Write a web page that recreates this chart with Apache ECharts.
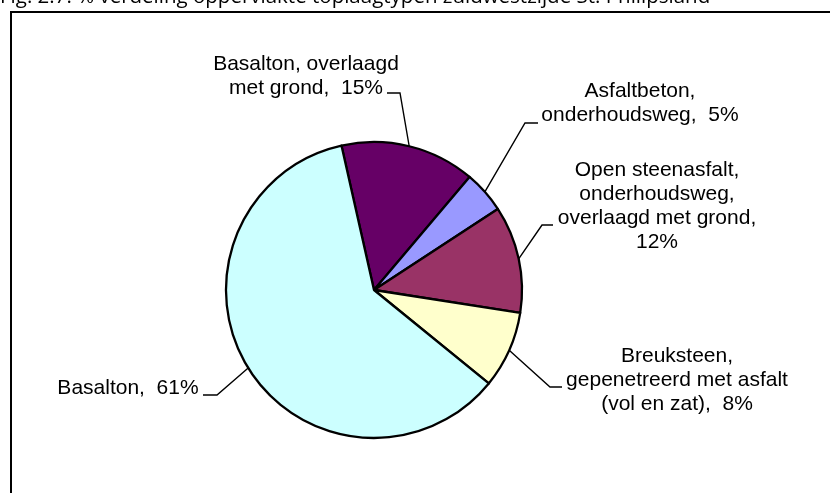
<!DOCTYPE html>
<html>
<head>
<meta charset="utf-8">
<script src="https://cdn.jsdelivr.net/npm/echarts@6/dist/echarts.min.js"></script>
<style>
html,body{margin:0;padding:0;background:#fff;}
#chart{width:830px;height:493px;}
</style>
</head>
<body>
<div id="chart"></div>
<script>
// ---- data ----
const categories = [
  'Basalton, overlaagd\nmet grond',
  'Asfaltbeton,\nonderhoudsweg',
  'Open steenasfalt,\nonderhoudsweg,\noverlaagd met grond',
  'Breuksteen,\ngepenetreerd met asfalt\n(vol en zat)',
  'Basalton'
];
const values = [14.7, 4.6, 11.7, 8.4, 60.6];
const percentSeparators = ',  |,  |,\n|,  |,  '.split('|');
const sliceColors = ['#660066', '#9999FF', '#993366', '#FFFFCC', '#CCFFFF'];
const titleText = 'Fig. 2.7: % verdeling oppervlakte toplaagtypen zuidwestzijde St. Philipsland';

// ---- label layout (positions only) ----
const labelBoxes = [
  {x: 306, y: 76,  elbow: [400, 93],  end: [387, 93]},
  {x: 640, y: 103, elbow: [525, 123], end: [538, 123]},
  {x: 657, y: 206, elbow: [542, 225], end: [553, 225]},
  {x: 677, y: 380, elbow: [550, 387], end: [562, 387]},
  {x: 128, y: 388, elbow: [217, 395], end: [203, 395]}
];

const chart = echarts.init(document.getElementById('chart'), null, {renderer: 'canvas'});
const FONT = '"Liberation Sans", Arial, sans-serif';

chart.setOption({
  backgroundColor: '#ffffff',
  animation: false,
  graphic: [
    {
      type: 'rect',
      shape: {x: 11, y: 12, width: 900, height: 600},
      style: {fill: 'none', stroke: '#000', lineWidth: 2},
      z: 0
    },
    {
      type: 'text',
      left: 0,
      top: -13,
      style: {text: titleText, font: '20.5px "Open Sans", sans-serif', fill: '#000'},
      z: 1
    }
  ],
  series: [{
    type: 'pie',
    center: [374, 290],
    radius: 148,
    startAngle: 102.7,
    clockwise: true,
    avoidLabelOverlap: false,
    minShowLabelAngle: 0,
    data: categories.map((c, i) => ({
      name: c,
      value: values[i],
      itemStyle: {color: sliceColors[i]}
    })),
    itemStyle: {borderColor: '#000', borderWidth: 2.3},
    emphasis: {disabled: true},
    label: {
      show: true,
      position: 'outside',
      color: '#000',
      fontFamily: FONT,
      fontSize: 21,
      lineHeight: 24,
      align: 'center',
      formatter: p => p.name + percentSeparators[p.dataIndex] + Math.round(p.percent) + '%'
    },
    labelLine: {
      show: true,
      smooth: false,
      lineStyle: {color: '#000', width: 1.4}
    },
    labelLayout: function (params) {
      const b = labelBoxes[params.dataIndex];
      const start = params.labelLinePoints ? params.labelLinePoints[0] : b.elbow;
      return {
        x: b.x,
        y: b.y,
        align: 'center',
        verticalAlign: 'middle',
        labelLinePoints: [start, b.elbow, b.end]
      };
    }
  }]
});
</script>
</body>
</html>
